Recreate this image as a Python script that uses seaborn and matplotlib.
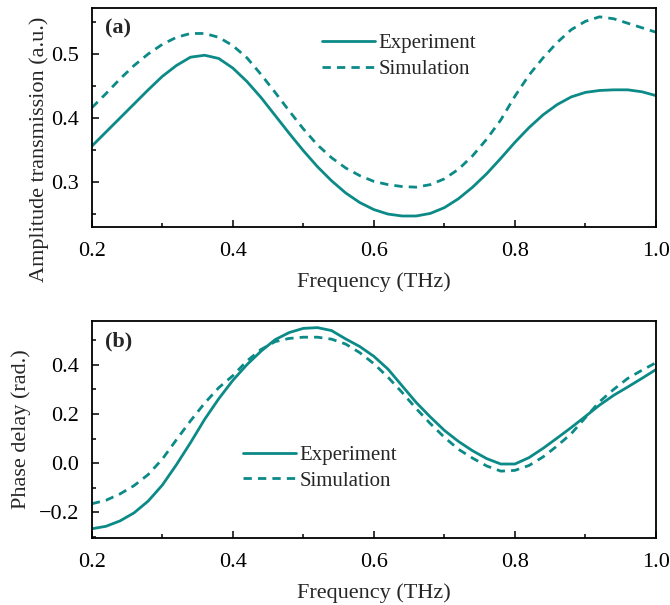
import numpy as np
import pandas as pd
import matplotlib
matplotlib.use("Agg")
import matplotlib.pyplot as plt
import seaborn as sns
from matplotlib.ticker import MultipleLocator

sns.set_theme(style="ticks")
plt.rcParams['font.family'] = ['Liberation Serif', 'DejaVu Serif']
plt.rcParams['mathtext.fontset'] = 'stix'

freq = [0.20, 0.22, 0.24, 0.26, 0.28, 0.30, 0.32, 0.34, 0.36, 0.38,
        0.40, 0.42, 0.44, 0.46, 0.48, 0.50, 0.52, 0.54, 0.56, 0.58,
        0.60, 0.62, 0.64, 0.66, 0.68, 0.70, 0.72, 0.74, 0.76, 0.78,
        0.80, 0.82, 0.84, 0.86, 0.88, 0.90, 0.92, 0.94, 0.96, 0.98, 1.00]

amp_exp = [0.356, 0.378, 0.400, 0.422, 0.444, 0.465, 0.482, 0.495, 0.498, 0.493,
           0.478, 0.457, 0.432, 0.404, 0.376, 0.349, 0.324, 0.302, 0.283, 0.268,
           0.257, 0.250, 0.247, 0.247, 0.251, 0.260, 0.274, 0.292, 0.313, 0.337,
           0.362, 0.385, 0.405, 0.421, 0.433, 0.440, 0.443, 0.444, 0.444, 0.441, 0.435]

amp_sim = [0.416, 0.438, 0.461, 0.482, 0.500, 0.515, 0.526, 0.532, 0.532, 0.526,
           0.513, 0.494, 0.468, 0.440, 0.411, 0.383, 0.358, 0.338, 0.322, 0.310,
           0.301, 0.296, 0.293, 0.292, 0.296, 0.305, 0.320, 0.341, 0.367, 0.397,
           0.434, 0.467, 0.494, 0.518, 0.538, 0.551, 0.558, 0.555, 0.548, 0.541, 0.534]

phase_exp = [-0.268, -0.258, -0.236, -0.203, -0.155, -0.090, -0.007, 0.083, 0.178, 0.262,
             0.337, 0.401, 0.456, 0.503, 0.532, 0.549, 0.552, 0.540, 0.506, 0.475,
             0.435, 0.383, 0.315, 0.247, 0.188, 0.133, 0.088, 0.050, 0.018, -0.004,
             -0.004, 0.022, 0.060, 0.102, 0.145, 0.190, 0.236, 0.276, 0.310, 0.345, 0.381]

phase_sim = [-0.166, -0.152, -0.126, -0.092, -0.047, 0.016, 0.095, 0.172, 0.244, 0.307,
             0.356, 0.416, 0.463, 0.495, 0.508, 0.513, 0.513, 0.505, 0.485, 0.450,
             0.405, 0.350, 0.288, 0.222, 0.161, 0.105, 0.056, 0.020, -0.012, -0.033,
             -0.030, -0.010, 0.025, 0.070, 0.120, 0.185, 0.250, 0.300, 0.345, 0.378, 0.409]

labels = ["Experiment", "Simulation"]
color = "#0B8A87"
FS = 16
LFS = 15

df_amp = pd.DataFrame({"Frequency": freq * 2,
                       "Value": amp_exp + amp_sim,
                       "Series": [labels[0]] * len(freq) + [labels[1]] * len(freq)})
df_ph = pd.DataFrame({"Frequency": freq * 2,
                      "Value": phase_exp + phase_sim,
                      "Series": [labels[0]] * len(freq) + [labels[1]] * len(freq)})

fig = plt.figure(figsize=(6.7, 6.05), dpi=100)
ax1 = fig.add_axes([0.137, 0.625, 0.842, 0.362])
ax2 = fig.add_axes([0.137, 0.111, 0.842, 0.358])

dash_map = {labels[0]: "", labels[1]: (3.0, 2.2)}
pal = {labels[0]: color, labels[1]: color}

for ax, df in [(ax1, df_amp), (ax2, df_ph)]:
    sns.lineplot(data=df, x="Frequency", y="Value", hue="Series", style="Series",
                 palette=pal, dashes=dash_map, linewidth=2.0, ax=ax, legend=True)
    ax.set_xlim(0.2, 1.0)
    ax.xaxis.set_major_locator(MultipleLocator(0.2))
    ax.xaxis.set_minor_locator(MultipleLocator(0.1))
    ax.tick_params(axis='both', which='both', direction='in', labelsize=FS,
                   top=False, right=False, colors='black')
    ax.tick_params(axis='both', which='major', length=5, width=1.1)
    ax.tick_params(axis='both', which='minor', length=3, width=1.1)
    ax.tick_params(axis='x', which='major', pad=11)
    ax.tick_params(axis='y', which='major', pad=9)
    for s in ax.spines.values():
        s.set_linewidth(1.3)
        s.set_color('black')
    ax.set_xlabel("Frequency (THz)", fontsize=FS, labelpad=8)

ax1.set_ylim(0.23, 0.572)
ax1.yaxis.set_major_locator(MultipleLocator(0.1))
ax1.yaxis.set_minor_locator(MultipleLocator(0.05))
ax1.set_ylabel("Amplitude transmission (a.u.)", fontsize=FS)
ax1.yaxis.set_label_coords(-0.075, 0.355)
ax1.xaxis.set_major_formatter(matplotlib.ticker.FormatStrFormatter('%.1f'))
ax1.yaxis.set_major_formatter(matplotlib.ticker.FormatStrFormatter('%.1f'))

ax2.set_ylim(-0.305, 0.578)
ax2.yaxis.set_major_locator(MultipleLocator(0.2))
ax2.yaxis.set_minor_locator(MultipleLocator(0.1))
ax2.set_ylabel("Phase delay (rad.)", fontsize=FS)
ax2.yaxis.set_label_coords(-0.108, 0.5)
ax2.xaxis.set_major_formatter(matplotlib.ticker.FormatStrFormatter('%.1f'))
ax2.yaxis.set_major_formatter(matplotlib.ticker.FuncFormatter(
    lambda v, p: ("\u2212%.1f" % abs(v)) if v < -1e-9 else "%.1f" % abs(v)))

leg_kw = dict(loc='upper left', frameon=False, fontsize=LFS, handlelength=2.55,
              handletextpad=0.15, labelspacing=0.3, borderpad=0, borderaxespad=0)
ax1.legend(bbox_to_anchor=(0.408, 0.883), **leg_kw)
ax2.legend(bbox_to_anchor=(0.268, 0.427), **leg_kw)

ax1.text(0.023, 0.905, "(a)", transform=ax1.transAxes, fontsize=FS,
         fontweight='bold', va='center', ha='left')
ax2.text(0.023, 0.905, "(b)", transform=ax2.transAxes, fontsize=FS,
         fontweight='bold', va='center', ha='left')

fig.savefig("out.png", dpi=100)
